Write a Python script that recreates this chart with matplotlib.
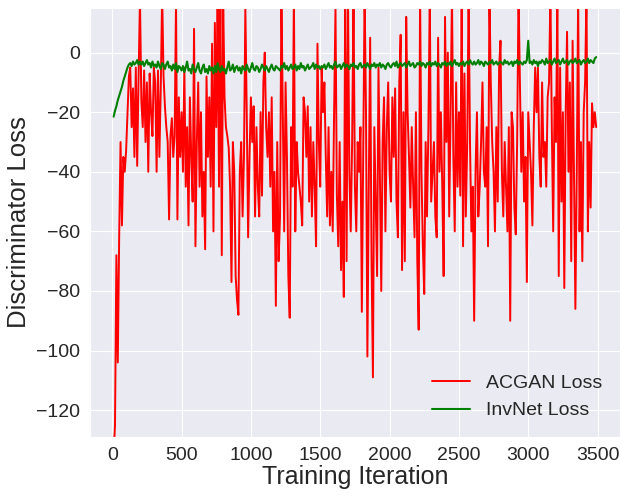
import numpy as np
import matplotlib
matplotlib.use("Agg")
from matplotlib import pyplot as plt
import seaborn as sns

# iterations, every 10 steps
iters = np.arange(10, 3500, 10)

# ACGAN discriminator loss
acgan = [
    -135, -125, -68, -104, -62, -30, -58, -35, -40, -33,
    -20, -8, -5, -25, -12, -35, -5, -38, -8, 18,
    -16, -25, -6, -30, -10, -40, -7, -20, -28, -5,
    -10, -40, -6, -35, -12, 20, -8, -18, -25, -30,
    -56, -28, -22, -35, -28, 17, -56, -15, -35, -20,
    -40, -5, -45, -25, -58, -15, -35, -50, 8, -65,
    -30, -10, -45, -20, -55, -40, -66, -8, -35, -15,
    -45, 3, -60, 10, -25, 18, -45, 20, -68, 18,
    -15, -25, -28, -32, -45, -77, -30, -40, -75, -83,
    -88, -40, -30, -55, -35, 15, -20, -62, -35, -15,
    -30, -18, -55, -25, -45, -55, -20, -48, -10, 0,
    -25, -35, -20, -45, -15, -60, -40, -85, -30, -70,
    -55, 20, -20, -60, -10, -35, -75, -89, -25, -45,
    20, -60, -30, -40, -45, -50, -58, -15, -20, -35,
    -18, -50, -25, -55, -30, -45, -65, 3, -30, -45,
    -5, -20, -10, -35, -55, -25, -58, -40, -60, -20,
    15, -48, -65, -30, -73, -50, -82, 20, -70, 20,
    -40, -60, -30, 20, -45, -60, -30, -40, -25, -87,
    -35, 20, -20, -102, -45, 5, -70, -109, -25, -50,
    -75, -5, -40, -80, -30, -15, -60, -25, -10, -40,
    -50, -15, -35, -12, -50, -62, -10, 6, -73, -20,
    -70, 12, -20, -35, -52, -25, -45, -62, -20, -70,
    -93, 20, -40, -65, -81, -30, -55, -25, 20, -50,
    -40, -30, -55, -62, 5, -40, -20, -45, -75, 12,
    -30, 0, -55, -20, 20, -35, -60, -10, -45, -20,
    -48, 20, -65, -7, -55, -30, 20, -30, -60, -45,
    -90, -40, -20, -55, -45, -30, -10, -40, -45, -25,
    -65, 20, -10, -30, -40, -60, -25, -50, -5, 4,
    -40, -55, -30, -45, -60, -25, -90, -20, -25, -52,
    -61, -30, 20, -10, -40, -20, -50, -35, -77, -20,
    -30, -40, -58, -25, -5, -20, -5, -35, -45, -10,
    -35, -30, -45, -15, -10, 20, -25, -60, -15, -30,
    20, -75, -5, -50, -20, -79, -20, 7, -40, -10,
    -70, 4, -40, -86, -40, 20, -60, -30, -70, -20,
    -10, 20, -60, -30, -52, -17, -25, -20, -25,
]

# InvNet discriminator loss
invnet = [
    -21.5, -19.5, -18.0, -16.0, -14.5, -13.0, -11.5, -9.5, -8.0, -6.5,
    -5.0, -4.0, -3.5, -4.5, -3.0, -4.0, -3.5, -2.5, -4.0, -3.0,
    -4.0, -3.0, -4.5, -3.5, -2.5, -4.0, -3.5, -5.0, -3.0, -4.5,
    -4.0, -5.0, -3.0, -4.5, -5.5, -3.5, -4.0, -5.5, -4.0, -3.0,
    -5.0, -4.5, -6.0, -4.0, -5.5, -3.5, -6.5, -4.5, -5.0, -6.0,
    -4.5, -6.5, -5.0, -3.0, -6.0, -5.5, -7.0, -4.0, -5.5, -6.5,
    -5.0, -3.5, -6.0, -7.0, -5.0, -4.0, -6.5, -5.5, -7.0, -4.5,
    -6.0, -5.0, -7.0, -4.5, -6.5, -3.5, -5.5, -6.5, -4.5, -6.0,
    -5.5, -7.0, -5.0, -3.0, -6.0, -5.5, -4.0, -6.5, -5.0, -4.5,
    -6.0, -5.0, -7.0, -4.5, -5.5, -6.0, -4.0, -5.5, -6.5, -5.0,
    -3.5, -5.5, -6.0, -4.5, -5.0, -6.5, -5.5, -4.0, -5.0, -6.0,
    -4.5, -5.5, -6.5, -5.0, -4.0, -5.5, -6.0, -4.5, -5.0, -5.5,
    -6.0, -4.5, -5.0, -3.5, -5.5, -4.5, -6.0, -5.0, -4.0, -5.5,
    -5.0, -4.0, -6.0, -4.5, -5.5, -3.5, -5.0, -4.5, -6.0, -5.0,
    -4.0, -5.5, -5.0, -4.5, -3.5, -5.5, -4.0, -5.0, -4.5, -5.5,
    -4.5, -5.0, -4.0, -5.5, -4.5, -3.5, -5.0, -4.5, -5.5, -4.0,
    -3.0, -5.0, -4.5, -4.0, -5.5, -4.5, -3.5, -5.0, -4.0, -4.5,
    -5.5, -4.0, -4.5, -3.5, -5.0, -4.5, -5.5, -4.0, -3.5, -5.0,
    -4.5, -4.0, -5.0, -3.5, -4.5, -5.5, -4.0, -4.5, -3.5, -5.0,
    -4.0, -4.5, -3.5, -5.0, -4.0, -4.5, -5.5, -4.0, -3.5, -4.5,
    -5.0, -4.0, -3.5, -4.5, -3.0, -5.0, -4.0, -3.5, -4.5, -4.0,
    -3.5, -5.0, -4.0, -3.0, -4.5, -4.0, -3.5, -5.0, -4.5, -3.5,
    -4.0, -3.0, -4.5, -3.5, -4.0, -5.0, -3.5, -4.0, -3.0, -4.5,
    -3.5, -4.0, -3.0, -4.5, -3.5, -4.0, -5.0, -3.5, -4.0, -3.0,
    -4.5, -3.5, -4.0, -3.0, -4.5, -3.5, -2.5, -4.0, -3.5, -4.5,
    -3.5, -4.0, -3.0, -4.5, -3.5, -3.0, -4.0, -2.5, -3.5, -4.0,
    -3.0, -4.0, -3.5, -2.5, -4.0, -3.0, -3.5, -4.5, -3.0, -3.5,
    -4.0, -3.0, -3.5, -2.5, -4.0, -3.5, -3.0, -4.0, -3.5, -3.0,
    -3.5, -4.0, -2.5, -3.5, -3.0, -4.0, -3.5, -3.0, -4.5, -3.0,
    -3.5, -2.5, -4.0, -3.0, -3.5, -4.0, -3.0, -3.5, -2.5, 4.0,
    -3.5, -3.0, -4.0, -2.5, -3.5, -3.0, -4.5, -3.0, -3.5, -2.5,
    -3.0, -4.0, -2.0, -3.5, -3.0, -2.5, -4.0, -3.0, -2.0, -3.5,
    -3.0, -2.5, -4.0, -3.0, -2.0, -3.5, -3.0, -2.5, -4.0, -3.0,
    -2.5, -3.5, -3.0, -2.0, -3.5, -3.0, -2.5, -4.0, -3.0, -2.5,
    -3.5, -3.0, -2.0, -3.5, -2.5, -3.0, -3.5, -2.0, -1.5,
]

sns.set_style("darkgrid")
plt.rcParams['font.family'] = ['Liberation Sans', 'DejaVu Sans']

fig = plt.figure(figsize=(6.21, 4.96), dpi=100)
ax = fig.add_axes([0.145, 0.119, 0.853, 0.865])

ax.plot(iters, acgan, color='red', lw=1.4, label='ACGAN Loss')
ax.plot(iters, invnet, color='green', lw=1.5, label='InvNet Loss')

ax.set_xlim(-160, 3660)
ax.set_ylim(-129, 15)
ax.set_xticks(np.arange(0, 3501, 500))
ax.set_yticks(np.arange(-120, 1, 20))
ax.tick_params(labelsize=14)
ax.set_xlabel('Training Iteration', fontsize=18, labelpad=1)
ax.set_ylabel('Discriminator Loss', fontsize=18.5)
ax.legend(loc='lower right', fontsize=14, frameon=False)

fig.savefig('out.png', dpi=100)
